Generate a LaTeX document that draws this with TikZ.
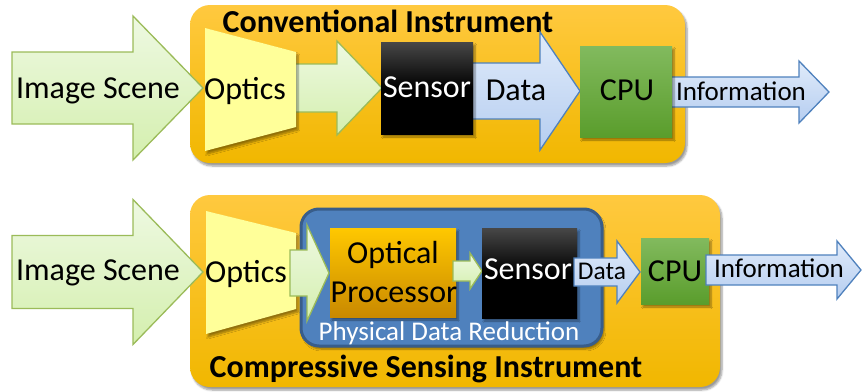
\documentclass[tikz,border=0pt]{standalone}
\usepackage{fontspec}
\setmainfont{Carlito}
\usetikzlibrary{shadows.blur}
\definecolor{orTop}{HTML}{FFC93F}
\definecolor{orBot}{HTML}{F1B700}
\definecolor{grFillA}{HTML}{EEF9E2}
\definecolor{grFillB}{HTML}{D4EFAE}
\definecolor{grLine}{HTML}{9BBB59}
\definecolor{blFillA}{HTML}{E0EBFA}
\definecolor{blFillB}{HTML}{B5CDF0}
\definecolor{blLine}{HTML}{4F81BD}
\definecolor{blBox}{HTML}{4F81BD}
\definecolor{blBoxLine}{HTML}{385D8A}
\definecolor{cpuTop}{HTML}{82BA5E}
\definecolor{cpuBot}{HTML}{5A9D2C}
\definecolor{optFill}{HTML}{FFFF99}
\definecolor{opTop}{HTML}{FFC800}
\definecolor{opBot}{HTML}{C98900}
\newcommand\barrow[7]{%
  \path[#1] (#2,{#5-#6}) -- (#3,{#5-#6}) -- (#3,{#5-#7}) -- (#4,#5)
    -- (#3,{#5+#7}) -- (#3,{#5+#6}) -- (#2,{#5+#6}) -- cycle;}
\begin{document}
\begin{tikzpicture}[x=1pt,y=-1pt,
  shad/.style={blur shadow={shadow blur steps=6,shadow xshift=2pt,shadow yshift=-3pt,shadow opacity=40}},
  instbox/.style={rounded corners=20pt,top color=orTop,bottom color=orBot,shad},
  greenarrow/.style={draw=grLine,line width=1.3pt,top color=grFillA,bottom color=grFillB,line join=miter},
  bluearrow/.style={draw=blLine,line width=1.3pt,top color=blFillA,bottom color=blFillB,line join=miter},
  optics/.style={fill=optFill,shad},
  sensorbox/.style={top color=black!72,bottom color=black,middle color=black,shad},
  cpubox/.style={top color=cpuTop,bottom color=cpuBot,shad},
  lbl/.style={anchor=base,inner sep=0pt,font=\fontsize{32}{36}\selectfont},
  lblsm/.style={anchor=base,inner sep=0pt,font=\fontsize{27}{30}\selectfont},
  ttl/.style={anchor=base,inner sep=0pt,font=\fontsize{32}{36}\selectfont\bfseries}]
\useasboundingbox (0,0) rectangle (862,391);
% ---------------- top: conventional instrument
\path[instbox] (190,5) rectangle (685,163);
\node[ttl] (t1) at (388,32) {Conventional Instrument};
\barrow{greenarrow}{12}{133}{203}{88}{36}{72}
\barrow{greenarrow}{290}{337}{382}{88}{24}{47}
\path[optics] (205,28) -- (296,52) -- (296,127) -- (205,151) -- cycle;
\barrow{bluearrow}{470}{540}{580}{91}{28}{59}
\path[sensorbox] (381,42) rectangle (473,134);
\barrow{bluearrow}{668}{799}{829}{92}{15}{31}
\path[cpubox] (580,46) rectangle (672,137);
\node[lbl] (is1) at (98,98) {Image Scene};
\node[lbl] (op1) at (245,99) {Optics};
\node[lbl,text=white] (se1) at (427,97) {Sensor};
\node[lbl] (da1) at (516,100) {Data};
\node[lbl] (cp1) at (627,100) {CPU};
\node[lblsm] (in1) at (741,100) {Information};
% ---------------- bottom: compressive sensing instrument
\path[instbox] (190,195) rectangle (720,387);
\node[ttl] (t2) at (426,377) {Compressive Sensing Instrument};
\barrow{greenarrow}{12}{133}{203}{272}{36.5}{72.5}
\path[optics] (206,211) -- (296,233) -- (296,309) -- (206,334) -- cycle;
\path[rounded corners=18pt,fill=blBox,draw=blBoxLine,line width=3pt,shad] (301,209) rectangle (602,346);
\barrow{greenarrow}{290}{307}{329}{273}{23}{48}
\path[top color=opTop,bottom color=opBot,shad] (330,228) rectangle (456,317);
\barrow{greenarrow}{453}{470}{482}{271}{10}{18}
\path[sensorbox] (482,228) rectangle (577,318);
\barrow{bluearrow}{574}{617}{640}{272}{14}{31}
\path[cpubox] (641,238) rectangle (709,304);
\barrow{bluearrow}{706}{837}{861}{270}{15}{29}
\node[lbl] (is2) at (98,280) {Image Scene};
\node[lbl] (op2) at (246,282) {Optics};
\node[lbl] (opA) at (393,263) {Optical};
\node[lbl] (opB) at (394,302) {Processor};
\node[lbl,text=white] (se2) at (528,279) {Sensor};
\node[anchor=base,inner sep=0pt,font=\fontsize{25.5}{30}\selectfont] (da2) at (602,279) {Data};
\node[lbl] (cp2) at (675,281) {CPU};
\node[lblsm] (in2) at (779,277) {Information};
\node[lblsm,text=white] (pdr) at (449,340) {Physical Data Reduction};
\end{tikzpicture}
\end{document}
